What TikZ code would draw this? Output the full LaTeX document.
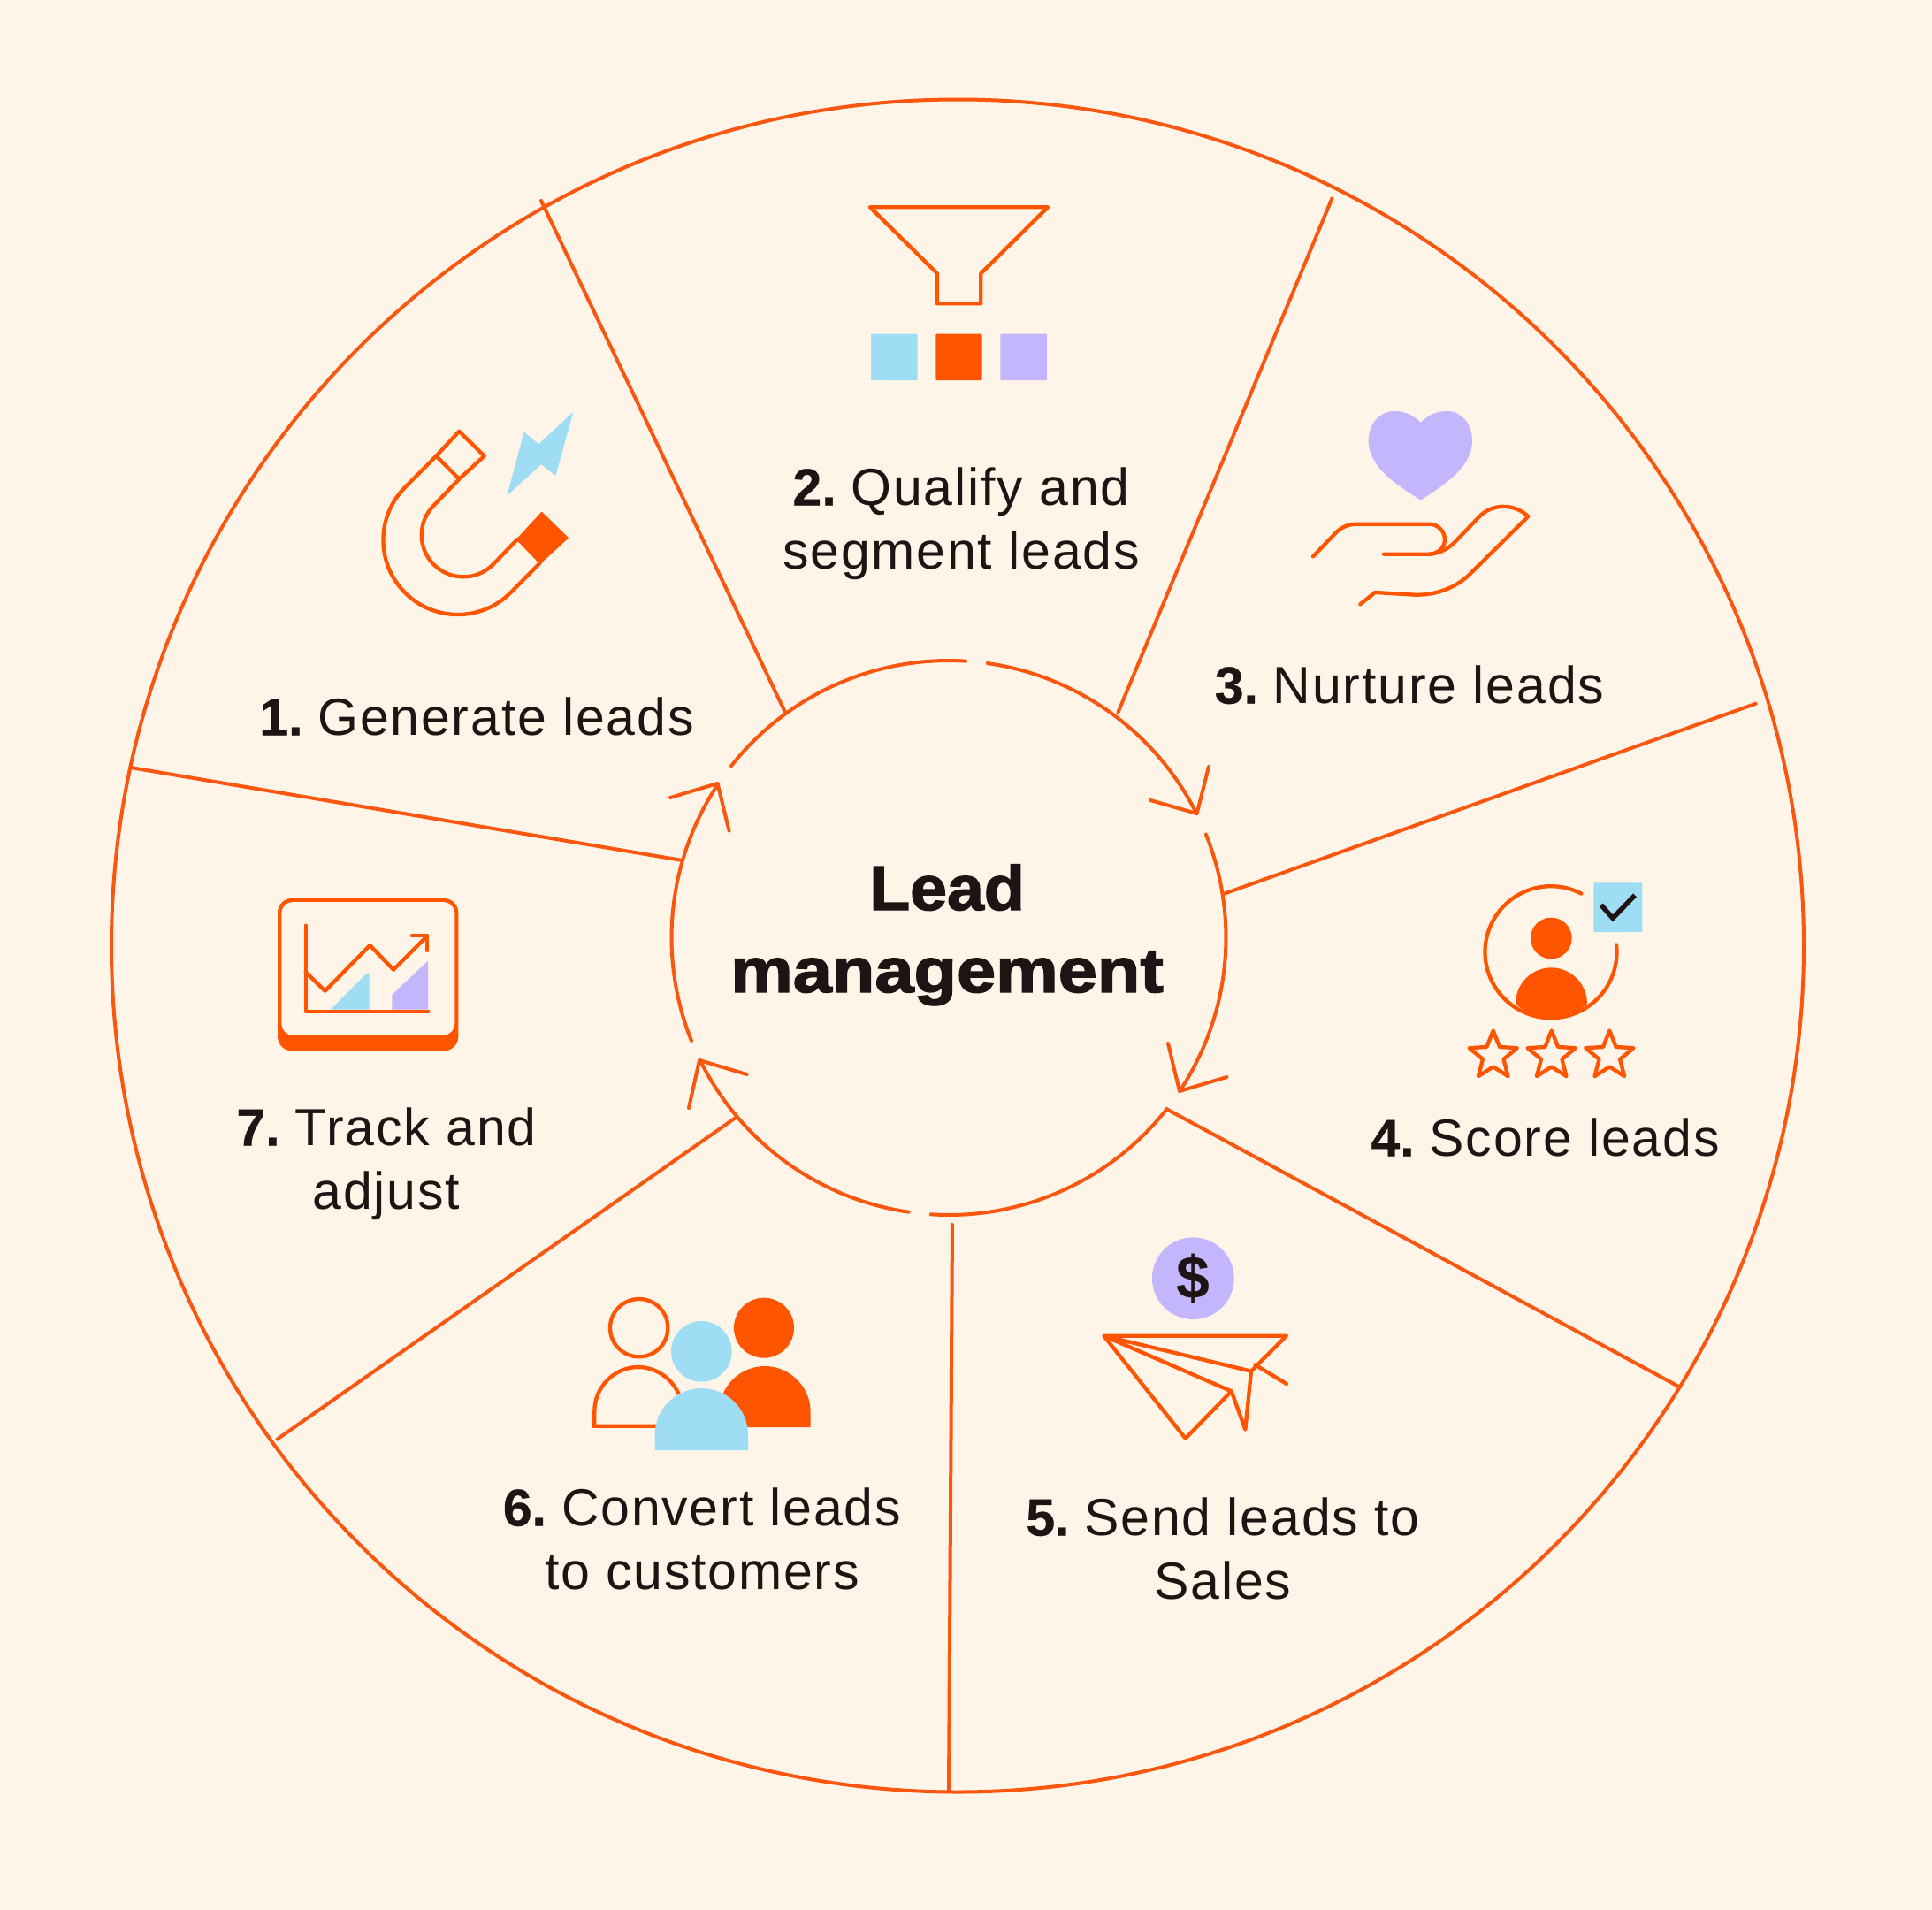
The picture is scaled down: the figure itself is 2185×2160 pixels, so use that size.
\documentclass[tikz,border=0pt]{standalone}
\usepackage{fontspec}
\usetikzlibrary{shapes.geometric}
\setmainfont[LetterSpace=3.1]{Liberation Sans}
\newfontfamily\numf[FakeBold=0.6]{Liberation Sans Bold}
\newcommand{\nm}[1]{{\numf #1}\hspace{17pt}}
\newfontfamily\hubA[FakeStretch=1.06,FakeBold=2]{Liberation Sans Bold}
\newfontfamily\hubB[FakeStretch=1.118,FakeBold=2]{Liberation Sans Bold}
\definecolor{bgc}{HTML}{FFF4E8}
\definecolor{ora}{HTML}{F9570F}
\definecolor{orf}{HTML}{FF5500}
\definecolor{sky}{HTML}{9EDDF3}
\definecolor{lav}{HTML}{C3B6FD}
\definecolor{ink}{HTML}{1E1414}
\tikzset{
  line/.style={draw=ora,line width=4pt,line cap=round,line join=round},
  iconline/.style={draw=orf,line width=4.3pt,line cap=round,line join=round},
  lbl/.style={font=\fontsize{59}{72.5}\selectfont,text=ink,align=center,anchor=base,inner sep=0pt},
  hub/.style={text=ink,align=center,anchor=base,inner sep=0pt},
  icon/.style={shift={(#1)},xscale=1/3,yscale=-1/3},
  starshape/.style={star,star points=5,star point ratio=2.3,minimum size=57pt,inner sep=0pt,draw=orf,line width=4.3pt,line join=round}
}
\begin{document}
\begin{tikzpicture}[x=1pt,y=1pt]
\useasboundingbox (0,0) rectangle (2185,-2160);
\fill[bgc] (0,0) rectangle (2185,-2160);
% wheel
\coordinate (wheel) at (1083,-1069.5);
\coordinate (hub) at (1073,-1060.5);
\draw[line] (wheel) circle (957);
% spokes
\coordinate (o1) at (612,-227);      \coordinate (i1) at (888,-805.5);
\coordinate (o2) at (1506.4,-224.4); \coordinate (i2) at (1264.5,-805.5);
\coordinate (o3) at (1985.7,-795.7); \coordinate (i3) at (1385,-1010.5);
\coordinate (o4) at (1898,-1567.7);  \coordinate (i4) at (1319,-1254);
\coordinate (o5) at (1073,-2026);    \coordinate (i5) at (1077,-1385);
\coordinate (o6) at (313.5,-1627.6); \coordinate (i6) at (832.4,-1263.7);
\coordinate (o7) at (147.7,-868);    \coordinate (i7) at (770.4,-972.8);
\foreach \n in {1,...,7} \draw[line] (o\n) -- (i\n);
% ring arcs
\draw[line] (hub) ++(81.96:313.5) arc (81.96:26.6:313.5);
\draw[line] (hub) ++(21.9:313.5) arc (21.9:-33.6:313.5);
\draw[line] (hub) ++(-38.2:313.5) arc (-38.2:-93.7:313.5);
\draw[line] (hub) ++(-98.3:313.5) arc (-98.3:-153.8:313.5);
\draw[line] (hub) ++(-158.2:313.5) arc (-158.2:-213.7:313.5);
\draw[line] (hub) ++(141.7:313.5) arc (141.7:86.5:313.5);
% arrow barbs
\coordinate (t1) at (1353.6,-920);  \draw[line] (1367,-867) -- (t1) -- (1301,-905);
\coordinate (t2) at (1334,-1234);   \draw[line] (1321,-1180) -- (t2) -- (1387.4,-1218);
\coordinate (t3) at (791,-1199);    \draw[line] (844.5,-1215) -- (t3) -- (779,-1253);
\coordinate (t4) at (811.5,-886);   \draw[line] (758,-902) -- (t4) -- (824.6,-939.6);
% centre title
\node[hub,font=\hubA\fontsize{71}{94}\selectfont] (titleA) at (1071,-1029) {Lead};
\node[hub,font=\hubB\fontsize{71}{94}\selectfont] (titleB) at (1071,-1122) {management};
% labels
\node[lbl] (l1) at (539,-831.5) {\nm{1.}Generate leads};
\node[lbl] (l2a) at (1087,-571.5) {\nm{2.}Qualify and};
\node[lbl] (l2b) at (1087,-643.5) {segment leads};
\node[lbl] (l3) at (1594,-795.5) {\nm{3.}Nurture leads};
\node[lbl] (l4) at (1747.5,-1307.5) {\nm{4.}Score leads};
\node[lbl] (l5a) at (1383,-1736.5) {\nm{5.}Send leads to};
\node[lbl] (l5b) at (1383,-1808.5) {Sales};
\node[lbl] (l6a) at (794,-1725.5) {\nm{6.}Convert leads};
\node[lbl] (l6b) at (794,-1797.5) {to customers};
\node[lbl] (l7a) at (437,-1295.5) {\nm{7.}Track and};
\node[lbl] (l7b) at (437,-1367.5) {adjust};
% funnel icon
\begin{scope}[icon={960,-210}]
\draw[iconline] (72,73) -- (675,73) -- (448,298) -- (448,400) -- (300,400) -- (300,298) -- cycle;
\fill[sky,rounded corners=1pt] (75,503) rectangle (233,660);
\fill[orf,rounded corners=1pt] (295,503) rectangle (452,660);
\fill[lav,rounded corners=1pt] (514,503) rectangle (672,660);
\end{scope}
% magnet icon
\draw[iconline] (493.3,-515.7) -- (519.3,-487.7) -- (547.7,-515.7) -- (519.3,-541.7) -- cycle;
\fill[orf,draw=orf,line width=2pt,line join=round] (585,-610) -- (612.7,-580) -- (641.7,-608.3) -- (610.7,-636.7) -- cycle;
\draw[iconline] (493.3,-515.7) -- (458.1,-551.1) arc (135:315:84.3) -- (610.7,-636.7);
\draw[iconline] (519.3,-541.7) -- (490.6,-571.6) arc (135:315:47.3) -- (585,-610);
\begin{scope}[icon={400,-440}]
\fill[sky,rounded corners=1pt] (745,78) -- (685,295) -- (637,255) -- (520,362) -- (578,145) -- (627,187) -- cycle;
\end{scope}
% hand icon
\begin{scope}[icon={1460,-440}]
\fill[lav] (440,113) .. controls (410,85) and (385,75) .. (350,75) .. controls (300,75) and (263,120) .. (263,175) .. controls (263,270) and (370,330) .. (440,377) .. controls (510,330) and (615,270) .. (615,175) .. controls (615,120) and (580,75) .. (530,75) .. controls (495,75) and (470,85) .. (440,113) -- cycle;
\draw[iconline] (75,568) -- (145,495) .. controls (165,472) and (190,458) .. (225,458) -- (470,458) .. controls (500,458) and (522,485) .. (522,510) .. controls (522,540) and (495,560) .. (470,560) -- (315,560);
\draw[iconline] (470,560) .. controls (505,558) and (535,540) .. (555,520) -- (640,432) .. controls (680,390) and (755,385) .. (805,432) -- (610,625) .. controls (560,675) and (490,700) .. (420,698) -- (285,690) -- (235,730);
\end{scope}
% person icon
\draw[iconline] (1754,-1076.7) ++(62.5:74.5) arc (62.5:366.4:74.5);
\begin{scope}[icon={1640,-980}]
\fill[orf] (343,243) circle (70);
\fill[orf] (222,465) .. controls (222,398) and (276,343) .. (343,343) .. controls (410,343) and (465,398) .. (465,465) .. controls (430,497) and (390,515) .. (343,515) .. controls (295,515) and (255,497) .. (222,465) -- cycle;
\fill[sky,rounded corners=1pt] (487,55) rectangle (652,222);
\draw[ink,line width=5.5pt,line join=miter] (512,130) -- (552,175) -- (627,97);
\end{scope}
\node[starshape] (s1) at (1688.7,-1194) {};
\node[starshape] (s2) at (1754.7,-1194) {};
\node[starshape] (s3) at (1820.3,-1194) {};
% plane icon
\begin{scope}[icon={1220,-1380}]
\fill[lav] (388,197) circle (139);
\draw[iconline] (85,392) -- (705,392) -- (585,512) -- (85,392) -- (518,580) -- (362,740) -- cycle;
\draw[iconline] (518,580) -- (565,710) -- (585,512);
\draw[iconline] (598,490) -- (705,555);
\node[text=ink,font=\fontsize{68}{68}\selectfont\bfseries,inner sep=0pt] (dollar) at (388,197) {\$};
\end{scope}
% people icon
\begin{scope}[icon={650,-1440}]
\draw[iconline,line cap=butt,line join=miter] (218,185) circle (98);
\draw[iconline,line cap=butt,line join=miter] (340,518) -- (67,518) -- (67,468) .. controls (67,385) and (135,318) .. (215,318) .. controls (295,318) and (365,385) .. (365,468) -- (340,518);
\fill[orf] (642,185) circle (102);
\fill[orf] (490,522) -- (490,470) .. controls (490,385) and (560,315) .. (645,315) .. controls (730,315) and (800,385) .. (800,470) -- (800,522) -- cycle;
\fill[sky] (430,265) circle (103);
\fill[sky] (272,600) -- (272,548) .. controls (272,460) and (343,390) .. (430,390) .. controls (517,390) and (588,460) .. (588,548) -- (588,600) -- cycle;
\end{scope}
% chart icon
\begin{scope}[icon={300,-1000}]
\fill[orf,rounded corners=16pt] (42,48) rectangle (655,565);
\fill[bgc,rounded corners=13pt] (55,60) rectangle (643,512);
\fill[sky] (222,425) -- (345,302) -- (353,302) -- (353,425) -- cycle;
\fill[lav] (430,425) -- (430,375) -- (552,260) -- (552,425) -- cycle;
\draw[iconline] (137,140) -- (137,432) -- (553,432);
\draw[iconline] (137,298) -- (203,362) -- (355,207) -- (435,290) -- (550,175);
\draw[iconline] (498,175) -- (550,175) -- (550,225);
\end{scope}
\end{tikzpicture}
\end{document}
